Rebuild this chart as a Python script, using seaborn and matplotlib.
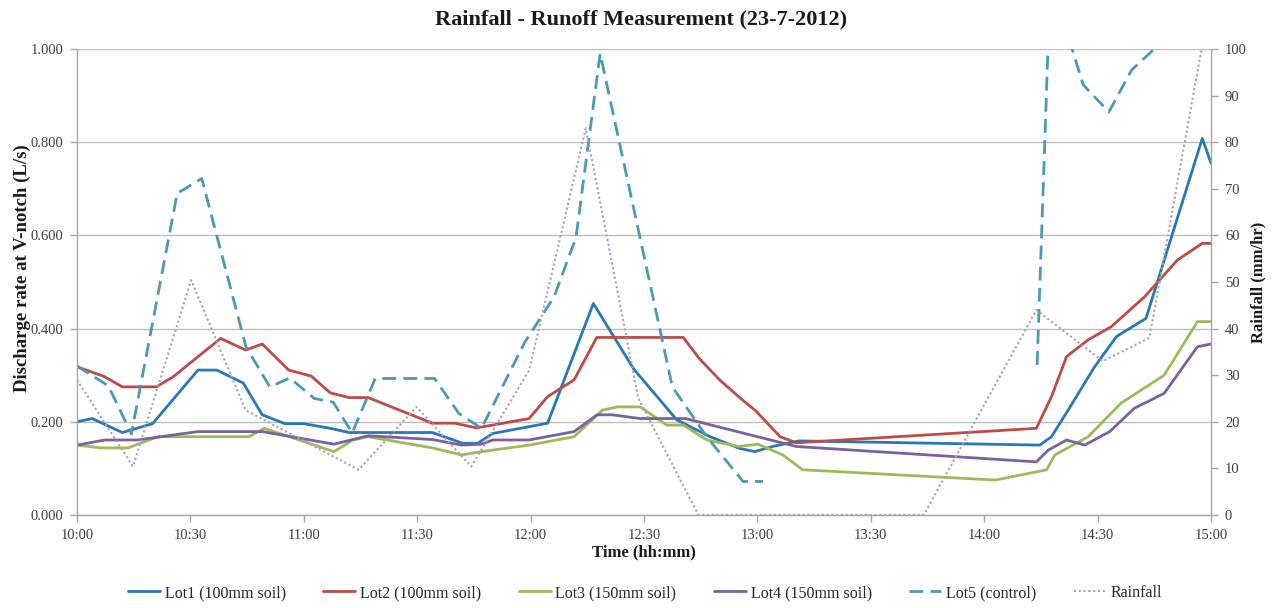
import numpy as np
import matplotlib
matplotlib.use("Agg")
import matplotlib.pyplot as plt
import seaborn as sns

# ---------------- data (minutes after 10:00) ----------------
tick_labels = ["10:00", "10:30", "11:00", "11:30", "12:00", "12:30",
               "13:00", "13:30", "14:00", "14:30", "15:00"]
tick_minutes = [0, 30, 60, 90, 120, 150, 180, 210, 240, 270, 300]

lot1_t = [0, 4, 12, 20, 32, 37, 44, 49, 55, 60, 67, 72, 94, 102, 106, 110, 124.5,
          136.6, 147.3, 158.7, 167.5, 175.3, 179.3, 184, 191, 254.7, 257.8, 262.2,
          269.2, 275, 282.8, 297.7, 300]
lot1_q = [0.200, 0.207, 0.177, 0.196, 0.311, 0.311, 0.283, 0.215, 0.196, 0.196, 0.186,
          0.177, 0.177, 0.154, 0.154, 0.175, 0.197, 0.454, 0.313, 0.204, 0.168, 0.143,
          0.136, 0.147, 0.159, 0.150, 0.168, 0.225, 0.318, 0.383, 0.422, 0.808, 0.755]

lot2_t = [0, 7, 12, 21, 25.5, 38, 44.6, 49, 56, 62, 67, 72, 77, 94, 100, 105.6, 110,
          119.6, 124.5, 131.5, 137.5, 160.4, 164.6, 170, 175.6, 179.5, 186, 190.3,
          253.8, 257.8, 261.8, 267.5, 273.6, 282.4, 291.1, 297.7, 300]
lot2_q = [0.318, 0.298, 0.275, 0.275, 0.297, 0.379, 0.354, 0.367, 0.311, 0.298, 0.262,
          0.252, 0.252, 0.197, 0.197, 0.187, 0.193, 0.207, 0.254, 0.290, 0.381, 0.381,
          0.336, 0.290, 0.250, 0.224, 0.168, 0.155, 0.186, 0.254, 0.340, 0.376, 0.404,
          0.468, 0.547, 0.583, 0.583]

lot3_t = [0, 6.5, 13.5, 21.4, 45.5, 49.5, 68, 73, 77, 94, 101.7, 107, 119.6, 131.5,
          139, 143, 149, 156, 160.4, 166.6, 175, 180.2, 186.7, 192, 243, 256.5, 258.7,
          267.5, 276.2, 287.6, 296.4, 300]
lot3_q = [0.150, 0.144, 0.144, 0.168, 0.168, 0.186, 0.136, 0.161, 0.168, 0.144, 0.129,
          0.136, 0.150, 0.168, 0.225, 0.232, 0.232, 0.193, 0.193, 0.161, 0.147, 0.152,
          0.129, 0.097, 0.075, 0.097, 0.129, 0.168, 0.240, 0.300, 0.415, 0.415]

lot4_t = [0, 7.4, 16, 32, 49, 68, 77, 94, 101.7, 107, 110, 119.6, 131.5, 137.6, 141.6,
          149, 161, 190.3, 253.8, 256.9, 261.8, 266.6, 273.2, 279.7, 287.6, 296.4, 300]
lot4_q = [0.150, 0.161, 0.161, 0.179, 0.179, 0.152, 0.170, 0.162, 0.150, 0.152, 0.161,
          0.161, 0.179, 0.215, 0.215, 0.207, 0.207, 0.147, 0.114, 0.139, 0.161, 0.150,
          0.179, 0.229, 0.261, 0.361, 0.367]

# Lot5 has a gap between 13:01 and 14:13
lot5a_t = [0, 8.3, 14.4, 26.5, 33, 44.7, 51, 56.3, 62.8, 67.8, 72.8, 78.9, 94.6, 101,
           107, 118.4, 126.2, 132, 138.4, 157.5, 166.6, 176.2, 181.5]
lot5a_q = [0.320, 0.277, 0.174, 0.690, 0.722, 0.361, 0.275, 0.294, 0.250, 0.242, 0.176,
           0.293, 0.293, 0.218, 0.186, 0.370, 0.468, 0.595, 0.990, 0.275, 0.168, 0.072,
           0.072]
lot5b_t = [254, 257.5, 266.2, 273, 279, 285, 290]
lot5b_q = [0.322, 1.15, 0.923, 0.865, 0.955, 1.0, 1.12]

rain_t = [0, 14.8, 30.2, 44.6, 74.5, 89.8, 104.3, 119.6, 134.6, 148.5, 164.4, 224,
          253.8, 271.4, 283.7, 297.5, 300]
rain_v = [29, 10.4, 50.4, 22.5, 9.7, 23.2, 10.4, 31, 83, 25, 0, 0, 44, 33, 38, 100, 108]

series_names = ["Lot1 (100mm soil)", "Lot2 (100mm soil)", "Lot3 (150mm soil)",
                "Lot4 (150mm soil)", "Lot5 (control)", "Rainfall"]

# ---------------- style ----------------
sns.set_theme(style="white")
plt.rcParams['font.family'] = ['Liberation Serif', 'DejaVu Serif']

W, H = 1280, 608
fig = plt.figure(figsize=(W / 100, H / 100), dpi=100)
L, R, T, B = 77, 1211, 49, 515
ax = fig.add_axes([L / W, 1 - B / H, (R - L) / W, (B - T) / H])

c1, c2, c3, c4, c5, cr = "#2878B5", "#BE4B48", "#9BBB59", "#7D60A0", "#4A9AB5", "#A3A3B8"
lw = 2.0

sns.lineplot(x=lot1_t, y=lot1_q, ax=ax, color=c1, lw=lw, label=series_names[0], sort=False, estimator=None)
sns.lineplot(x=lot2_t, y=lot2_q, ax=ax, color=c2, lw=lw, label=series_names[1], sort=False, estimator=None)
sns.lineplot(x=lot3_t, y=lot3_q, ax=ax, color=c3, lw=lw, label=series_names[2], sort=False, estimator=None)
sns.lineplot(x=lot4_t, y=lot4_q, ax=ax, color=c4, lw=lw, label=series_names[3], sort=False, estimator=None)
dash = (0, (5, 2.6))
sns.lineplot(x=lot5a_t, y=lot5a_q, ax=ax, color=c5, lw=lw, linestyle=dash,
             label=series_names[4], sort=False, estimator=None)
sns.lineplot(x=lot5b_t, y=lot5b_q, ax=ax, color=c5, lw=lw, linestyle=dash,
             sort=False, estimator=None)

ax2 = ax.twinx()
sns.lineplot(x=rain_t, y=rain_v, ax=ax2, color=cr, lw=1.5, linestyle=(0, (1, 1.3)),
             label=series_names[5], sort=False, estimator=None)

ax.set_xlim(0, 300)
ax.set_ylim(0, 1.0)
ax2.set_ylim(0, 100)
ax.set_xticks(tick_minutes)
ax.set_xticklabels(tick_labels)
ax.set_yticks(np.arange(0, 1.0001, 0.2))
ax.set_yticklabels([f"{v:.3f}" for v in np.arange(0, 1.0001, 0.2)])
ax2.set_yticks(range(0, 101, 10))

ax.yaxis.grid(True, color="#BFBFBF", lw=1.0)
ax.xaxis.grid(False)
ax.set_axisbelow(True)

spine_c = "#A6A6A6"
for a in (ax, ax2):
    for s in a.spines.values():
        s.set_color(spine_c)
        s.set_linewidth(1.0)
    a.spines["top"].set_visible(False)
ax2.spines["left"].set_visible(False)
ax2.spines["bottom"].set_visible(False)
ax.spines["right"].set_visible(False)

tick_kw = dict(direction="out", length=5, width=1, color=spine_c,
               labelsize=10.5, labelcolor="#404040", pad=5)
ax.tick_params(axis="x", bottom=True, **tick_kw)
ax.tick_params(axis="y", left=True, **tick_kw)
ax2.tick_params(axis="y", right=True, **tick_kw)

ax.set_xlabel("")
ax.set_ylabel("")
ax2.set_ylabel("")

h1, l1 = ax.get_legend_handles_labels()
h2, l2 = ax2.get_legend_handles_labels()
ax.get_legend().remove()
ax2.get_legend().remove()

fig.text(641 / W, 1 - 19 / H, "Rainfall - Runoff Measurement (23-7-2012)",
         ha="center", va="center", fontsize=16, fontweight="bold", color="#1a1a1a")
fig.text(644 / W, 1 - 552 / H, "Time (hh:mm)", ha="center", va="center",
         fontsize=12, fontweight="bold", color="#1a1a1a")
fig.text(22 / W, 1 - 268 / H, "Discharge rate at V-notch (L/s)", ha="center",
         va="center", rotation=90, fontsize=13.5, fontweight="bold", color="#1a1a1a")
fig.text(1258 / W, 1 - 282 / H, "Rainfall (mm/hr)", ha="center", va="center",
         rotation=90, fontsize=12, fontweight="bold", color="#1a1a1a")

fig.legend(h1 + h2, l1 + l2, loc="center", bbox_to_anchor=(645 / W, 1 - 593 / H),
           ncol=6, frameon=False, fontsize=11.5, handlelength=2.0,
           columnspacing=2.35, handletextpad=0.3, labelcolor="#262626")

fig.savefig("out.png", dpi=100)
